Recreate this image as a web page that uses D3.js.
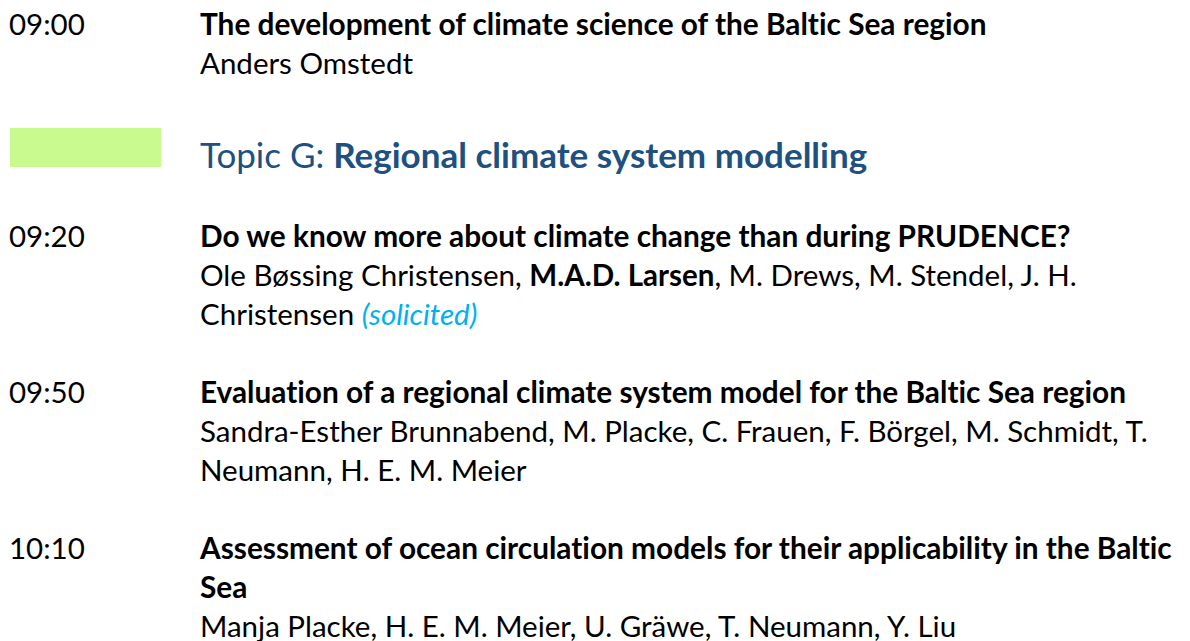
<!DOCTYPE html>
<html>
<head>
<meta charset="utf-8">
<script src="https://cdn.jsdelivr.net/npm/d3@7"></script>
<style>
  html, body { margin: 0; padding: 0; background: #ffffff; }
  svg { display: block; }
  text { font-variant-ligatures: none; font-feature-settings: "liga" 0, "clig" 0; }
</style>
</head>
<body>
<div id="chart"></div>
<script>
// ---- data ----
const times = ["09:00", "09:20", "09:50", "10:10"];
const titleLines = [
  ["The development of climate science of the Baltic Sea region"],
  ["Do we know more about climate change than during PRUDENCE?"],
  ["Evaluation of a regional climate system model for the Baltic Sea region"],
  ["Assessment of ocean circulation models for their applicability in the Baltic", "Sea"]
];
// each author line is a list of [text, role] segments
const authorLines = [
  [[["Anders Omstedt"]]],
  [[["Ole Bøssing Christensen, "], ["M.A.D. Larsen", "presenter"], [", M. Drews, M. Stendel, J. H."]],
   [["Christensen "], ["(solicited)", "note"]]],
  [[["Sandra-Esther Brunnabend, M. Placke, C. Frauen, F. Börgel, M. Schmidt, T."]],
   [["Neumann, H. E. M. Meier"]]],
  [[["Manja Placke, H. E. M. Meier, U. Gräwe, T. Neumann, Y. Liu"]]]
];
const topicPrefix = "Topic G: ";
const topicName = "Regional climate system modelling";
const topicAfterSession = 0;

// ---- layout / style ----
const W = 1190, H = 641;
const FONT = "Lato, 'Open Sans', sans-serif";
const bodySize = 29.5, titleSize = 29.8, topicSize = 35;
const timeX = 9, textX = 200;
const lineStep = 39, firstBaseline = 35;
const topicGapBefore = 94, topicGapAfter = 79;
const topicColor = "#20507f", noteColor = "#00b0f0", topicBox = "#c8fa90";

const svg = d3.select("#chart").append("svg")
  .attr("width", W).attr("height", H)
  .style("font-family", FONT);
svg.append("rect").attr("width", W).attr("height", H).attr("fill", "#fff");

// row scale: text-line units -> baseline pixels
const row = d3.scaleLinear().domain([0, 1]).range([firstBaseline, firstBaseline + lineStep]);

// compute rows (in line units)
let r = 0;
const blocks = [];
let topicRow = null;
times.forEach((t, i) => {
  const start = r;
  const lines = [];
  titleLines[i].forEach(l => lines.push({ segs: [[l, "title"]], row: r++ }));
  authorLines[i].forEach(l => lines.push({ segs: l, row: r++ }));
  blocks.push({ time: t, row: start, lines });
  const last = r - 1;
  if (i === topicAfterSession) {
    topicRow = last + topicGapBefore / lineStep;
    r = topicRow + topicGapAfter / lineStep;
  } else {
    r = last + 2;
  }
});

const roleStyle = {
  title: { weight: 700, style: "normal", fill: "#000", size: titleSize },
  presenter: { weight: 700, style: "normal", fill: "#000", size: bodySize },
  note: { weight: 400, style: "italic", fill: noteColor, size: bodySize },
  undefined: { weight: 400, style: "normal", fill: "#000", size: bodySize }
};

const g = svg.append("g");
const blk = g.selectAll("g.session").data(blocks).join("g").attr("class", "session");

blk.append("text")
  .attr("x", timeX).attr("y", d => row(d.row))
  .attr("font-size", bodySize).attr("fill", "#000")
  .text(d => d.time);

blk.selectAll("text.line").data(d => d.lines).join("text")
  .attr("class", "line")
  .attr("x", textX).attr("y", d => row(d.row))
  .selectAll("tspan").data(d => d.segs).join("tspan")
  .attr("font-size", s => roleStyle[s[1]].size)
  .attr("font-weight", s => roleStyle[s[1]].weight)
  .attr("font-style", s => roleStyle[s[1]].style)
  .attr("fill", s => roleStyle[s[1]].fill)
  .style("white-space", "pre")
  .text(s => s[0]);

// topic header
const ty = row(topicRow);
g.append("rect")
  .attr("x", 10).attr("y", ty - 40).attr("width", 151).attr("height", 39)
  .attr("fill", topicBox);
const tt = g.append("text")
  .attr("x", textX).attr("y", ty)
  .attr("font-size", topicSize).attr("fill", topicColor)
  .style("white-space", "pre");
tt.append("tspan").attr("font-weight", 400).text(topicPrefix);
tt.append("tspan").attr("font-weight", 700).text(topicName);
</script>
</body>
</html>
